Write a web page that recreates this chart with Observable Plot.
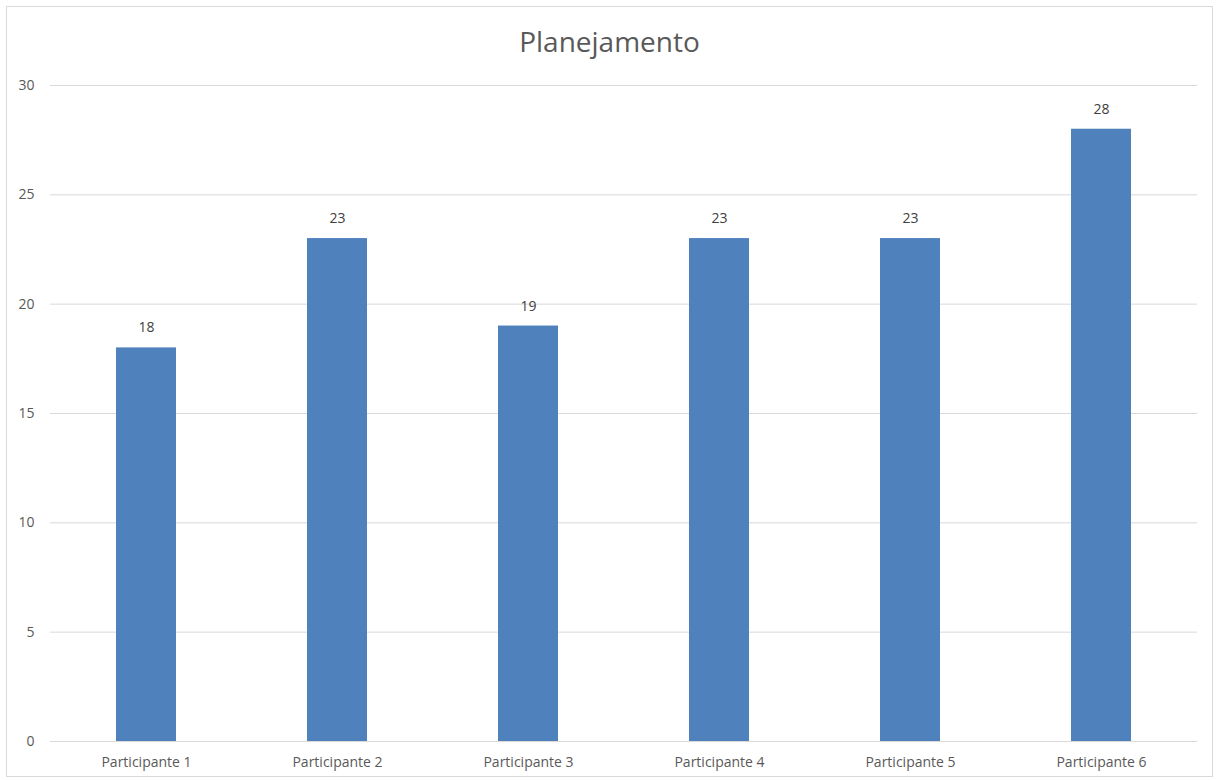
<!DOCTYPE html>
<html>
<head>
<meta charset="utf-8">
<script src="https://cdn.jsdelivr.net/npm/d3@7"></script>
<script src="https://cdn.jsdelivr.net/npm/@observablehq/plot@0.6"></script>
<style>
  html, body { margin: 0; padding: 0; background: #fff; }
  #wrap { position: relative; width: 1219px; height: 780px; overflow: hidden; }
  #frame { position: absolute; left: 6px; top: 6px; width: 1205px; height: 769px; border: 1px solid #d9d9d9; box-sizing: content-box; pointer-events: none; }
  #title { position: absolute; left: 0; top: 0; width: 1219px; height: 70px; text-align: center; font-family: "Open Sans", "Liberation Sans", sans-serif; font-size: 28px; color: #595959; line-height: 82px; }
  #chart { position: absolute; left: 0; top: 70px; }
</style>
</head>
<body>
<div id="wrap">
  <div id="title">Planejamento</div>
  <div id="chart"></div>
  <div id="frame"></div>
</div>
<script>
const categories = ["Participante 1", "Participante 2", "Participante 3", "Participante 4", "Participante 5", "Participante 6"];
const values = [18, 23, 19, 23, 23, 28];
const yTicks = [0, 5, 10, 15, 20, 25, 30];

const data = categories.map((c, i) => ({ name: c, value: values[i] }));

const chart = Plot.plot({
  width: 1219,
  height: 710,
  marginLeft: 50,
  marginRight: 22,
  marginTop: 15,
  marginBottom: 39,
  style: { fontFamily: "'Open Sans', 'Liberation Sans', sans-serif", fontSize: "14px", color: "#595959", background: "transparent" },
  x: { domain: categories, paddingInner: 0.686, paddingOuter: 0.343, label: null, tickSize: 0, tickPadding: 16 },
  y: { domain: [0, 30], ticks: yTicks, label: null, tickSize: 0, tickPadding: 16 },
  marks: [
    Plot.ruleY(yTicks, { stroke: "#d9d9d9", strokeWidth: 1 }),
    Plot.barY(data, { x: "name", y: "value", fill: "#4f81bd" }),
    Plot.ruleY([0], { stroke: "#d9d9d9", strokeWidth: 1 }),
    Plot.text(data, { x: "name", y: "value", text: d => String(d.value), dy: -20, fill: "#404040", fontSize: 14 })
  ]
});
document.getElementById("chart").appendChild(chart);
</script>
</body>
</html>
